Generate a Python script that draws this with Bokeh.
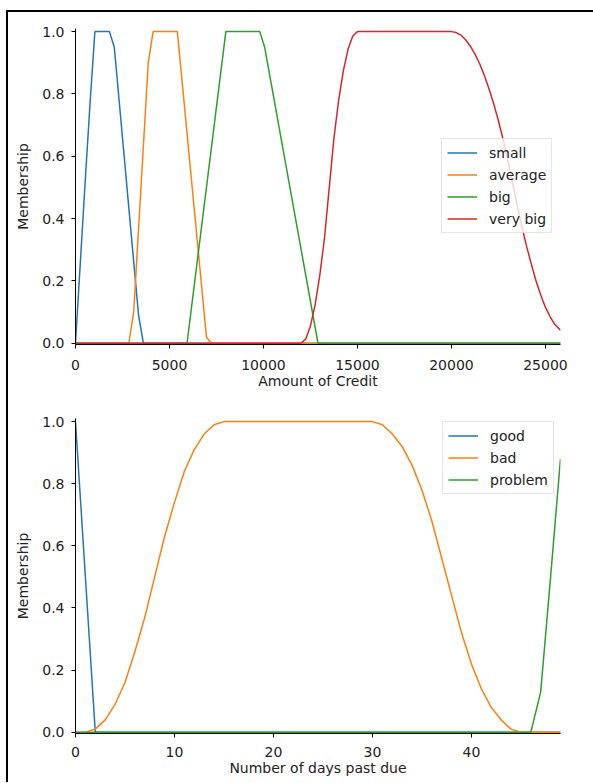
from bokeh.plotting import figure
from bokeh.models import Range1d, FixedTicker, PrintfTickFormatter, Div
from bokeh.layouts import column, row
from bokeh.embed import file_html
from bokeh.resources import INLINE

# ---------------- data: top chart (Amount of Credit) ----------------
small_x = [0, 258, 516, 774, 1032, 1806, 2064, 3354, 3612, 25800]
small_y = [0, 0.26, 0.52, 0.77, 1.0, 1.0, 0.95, 0.09, 0, 0]

average_x = [0, 2838, 3096, 3870, 4128, 5418, 6966, 7224, 25800]
average_y = [0, 0, 0.10, 0.90, 1.0, 1.0, 0.02, 0, 0]

big_x = [0, 5934, 7998, 9804, 10062, 12900, 25800]
big_y = [0, 0, 1.0, 1.0, 0.95, 0, 0]

very_big_x = [0, 12000, 12250, 12500, 12750, 13000, 13250, 13500, 13750, 14000,
              14250, 14500, 14750, 15000, 20000, 20250, 20500, 20750, 21000,
              21250, 21500, 21750, 22000, 22250, 22500, 22750, 23000, 23250,
              23500, 23750, 24000, 24250, 24500, 24750, 25000, 25250, 25500, 25800]
very_big_y = [0, 0, 0.014, 0.056, 0.125, 0.22, 0.34, 0.50, 0.66, 0.78,
              0.875, 0.944, 0.986, 1.0, 1.0, 0.997, 0.989, 0.974, 0.954,
              0.928, 0.897, 0.859, 0.816, 0.768, 0.713, 0.653, 0.587, 0.515,
              0.441, 0.373, 0.310, 0.254, 0.200, 0.155, 0.115, 0.085, 0.060, 0.042]

credit_ticks = [0, 5000, 10000, 15000, 20000, 25000]

# ---------------- data: bottom chart (days past due) ----------------
days = list(range(50))
good = [1.0, 0.5, 0, 0, 0, 0, 0, 0, 0, 0,
        0, 0, 0, 0, 0, 0, 0, 0, 0, 0,
        0, 0, 0, 0, 0, 0, 0, 0, 0, 0,
        0, 0, 0, 0, 0, 0, 0, 0, 0, 0,
        0, 0, 0, 0, 0, 0, 0, 0, 0, 0]
bad = [0, 0, 0.01, 0.04, 0.09, 0.16, 0.26, 0.37, 0.50, 0.63,
       0.74, 0.84, 0.91, 0.96, 0.99, 1.0, 1.0, 1.0, 1.0, 1.0,
       1.0, 1.0, 1.0, 1.0, 1.0, 1.0, 1.0, 1.0, 1.0, 1.0,
       1.0, 0.99, 0.96, 0.92, 0.86, 0.78, 0.68, 0.56, 0.44, 0.32,
       0.22, 0.14, 0.08, 0.04, 0.01, 0, 0, 0, 0, 0]
problem = [0, 0, 0, 0, 0, 0, 0, 0, 0, 0,
           0, 0, 0, 0, 0, 0, 0, 0, 0, 0,
           0, 0, 0, 0, 0, 0, 0, 0, 0, 0,
           0, 0, 0, 0, 0, 0, 0, 0, 0, 0,
           0, 0, 0, 0, 0, 0, 0, 0.13, 0.50, 0.88]

days_ticks = [0, 10, 20, 30, 40]
y_ticks = [0, 0.2, 0.4, 0.6, 0.8, 1.0]

C_BLUE, C_ORANGE, C_GREEN, C_RED = "#1f77b4", "#ff7f0e", "#2ca02c", "#d62728"
FONT = "DejaVu Sans"
TXT = "#222222"


def style(p, xticks, xlabel, tick_standoff, label_standoff):
    p.xgrid.visible = False
    p.ygrid.visible = False
    p.outline_line_color = None
    p.background_fill_color = "white"
    p.border_fill_color = "white"
    p.xaxis.ticker = FixedTicker(ticks=xticks)
    p.xaxis.formatter = PrintfTickFormatter(format="%d")
    p.yaxis.ticker = FixedTicker(ticks=y_ticks)
    p.yaxis.formatter = PrintfTickFormatter(format="%.1f")
    for ax in (p.xaxis[0], p.yaxis[0]):
        ax.axis_line_color = "black"
        ax.axis_line_width = 1
        ax.major_tick_line_color = "black"
        ax.major_tick_in = 0
        ax.major_tick_out = 4
        ax.minor_tick_in = 0
        ax.minor_tick_out = 0
        ax.major_label_text_font = FONT
        ax.major_label_text_font_size = "14px"
        ax.major_label_text_color = TXT
        ax.axis_label_text_font = FONT
        ax.axis_label_text_font_size = "14px"
        ax.axis_label_text_font_style = "normal"
        ax.axis_label_text_color = TXT
    p.xaxis.axis_label = xlabel
    p.yaxis.axis_label = "Membership"
    p.yaxis.major_label_standoff = 7
    p.yaxis.axis_label_standoff = 8
    p.xaxis.major_label_standoff = tick_standoff
    p.xaxis.axis_label_standoff = label_standoff


def style_legend(p, loc):
    lg = p.legend[0]
    lg.location = loc
    lg.margin = 0
    lg.padding = 5
    lg.spacing = 5
    lg.label_height = 17
    lg.glyph_height = 17
    lg.glyph_width = 30
    lg.label_standoff = 12
    lg.label_text_font = FONT
    lg.label_text_font_size = "14px"
    lg.label_text_color = TXT
    lg.border_line_color = "#cccccc"
    lg.border_line_width = 1
    lg.background_fill_color = "white"
    lg.background_fill_alpha = 0.8


W = 585
H1, H2 = 384, 386
p1 = figure(width=W, height=H1, output_backend="svg", toolbar_location=None,
            x_range=Range1d(0, 25800), y_range=Range1d(-0.004, 1.01),
            min_border_left=67, min_border_right=33, min_border_top=16, min_border_bottom=52)
p1.line(small_x, small_y, color=C_BLUE, line_width=1.5, legend_label="small")
p1.line(average_x, average_y, color=C_ORANGE, line_width=1.5, legend_label="average")
p1.line(big_x, big_y, color=C_GREEN, line_width=1.5, legend_label="big")
p1.line(very_big_x, very_big_y, color=C_RED, line_width=1.5, legend_label="very big")
style(p1, credit_ticks, "Amount of Credit", 11, 0)
style_legend(p1, (366, 111))

p2 = figure(width=W, height=H2, output_backend="svg", toolbar_location=None,
            x_range=Range1d(0, 49), y_range=Range1d(-0.004, 1.01),
            min_border_left=67, min_border_right=33, min_border_top=22, min_border_bottom=49)
p2.line(days, good, color=C_BLUE, line_width=1.5, legend_label="good")
p2.line(days, bad, color=C_ORANGE, line_width=1.5, legend_label="bad")
p2.line(days, problem, color=C_GREEN, line_width=1.5, legend_label="problem")
style(p2, days_ticks, "Number of days past due", 9, 0)
style_legend(p2, (367, 239))

# screenshot frame: a 2px black line along the top and the left edge
top_rule = Div(width=W, height=2, margin=0, styles={"background-color": "black"})
left_rule = Div(width=2, height=2 + H1 + H2, margin=0, styles={"background-color": "black"})

inner = column(top_rule, p1, p2, spacing=0, styles={"overflow": "hidden"})
layout = row(left_rule, inner, spacing=0,
             styles={"margin-left": "6px", "margin-top": "10px", "overflow": "hidden"})

open("out.html", "w").write(file_html(layout, INLINE))
